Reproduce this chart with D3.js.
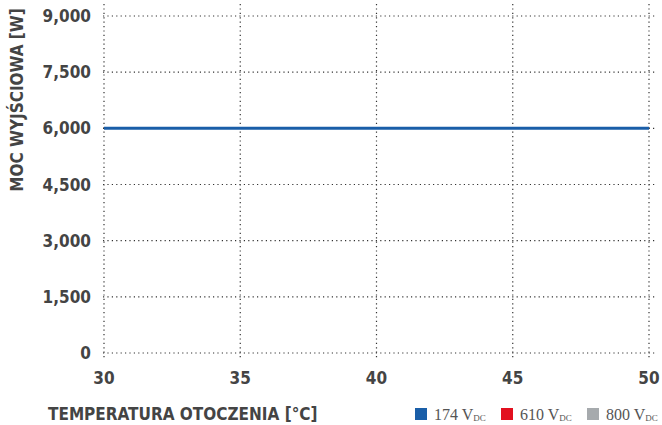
<!DOCTYPE html>
<html><head><meta charset="utf-8">
<script src="https://cdn.jsdelivr.net/npm/d3@7"></script>
<style>
body{margin:0;background:#fff;}
</style></head><body>
<svg id="c" width="662" height="425"></svg>
<script>
const temps = [30, 50];
const series174 = [6000, 6000];
const xTicks = [30, 35, 40, 45, 50];
const yTicks = [0, 1500, 3000, 4500, 6000, 7500, 9000];
const legendLabels = ["174", "610", "800"];
const legendColors = ["#1a5ea8", "#e2101f", "#a6aaad"];
const SANS = "'DejaVu Sans Condensed','DejaVu Sans',sans-serif";
const SERIF = "'Liberation Serif','DejaVu Serif',serif";

const svg = d3.select("#c");
const x = d3.scaleLinear().domain([30, 50]).range([104, 649]);
const y = d3.scaleLinear().domain([0, 9000]).range([353, 16]);
const grid = "#333";

svg.append("g").selectAll("line").data(xTicks).join("line")
  .attr("x1", d => x(d)).attr("x2", d => x(d))
  .attr("y1", 4).attr("y2", 359)
  .attr("stroke", grid).attr("stroke-width", 1.2).attr("stroke-dasharray", "1.2,3.2");
svg.append("g").selectAll("line").data(yTicks).join("line")
  .attr("x1", 103).attr("x2", 656)
  .attr("y1", d => y(d)).attr("y2", d => y(d))
  .attr("stroke", grid).attr("stroke-width", 1.2).attr("stroke-dasharray", "1.2,3.2");

svg.append("g").selectAll("text").data(yTicks).join("text")
  .attr("x", 91).attr("y", d => y(d) + 6)
  .attr("text-anchor", "end").style("font-family", SANS).style("font-size", "17px").style("font-weight", "bold")
  .attr("fill", "#444").text(d => d3.format(",")(d));
svg.append("g").selectAll("text").data(xTicks).join("text")
  .attr("x", d => x(d)).attr("y", 384)
  .attr("text-anchor", "middle").style("font-family", SANS).style("font-size", "17px").style("font-weight", "bold")
  .attr("fill", "#444").text(d => d);

const line = d3.line().x((d, i) => x(temps[i])).y(d => y(d));
svg.append("path").datum(series174).attr("d", line)
  .attr("fill", "none").attr("stroke", "#1a5ea8").attr("stroke-width", 3);

svg.append("text").attr("transform", "translate(23,100) rotate(-90)")
  .attr("text-anchor", "middle").style("font-family", SANS).style("font-size", "17px").style("font-weight", "bold")
  .attr("fill", "#444").text("MOC WYJŚCIOWA [W]");
svg.append("text").attr("x", 48).attr("y", 420)
  .style("font-family", SANS).style("font-size", "17px").style("font-weight", "bold")
  .attr("fill", "#444").text("TEMPERATURA OTOCZENIA [°C]");

const lg = svg.append("g").selectAll("g").data(legendLabels).join("g")
  .attr("transform", (d, i) => `translate(${415 + i * 86},408)`);
lg.append("rect").attr("width", 12).attr("height", 12)
  .attr("fill", (d, i) => legendColors[i]);
const t = lg.append("text").attr("x", 19).attr("y", 12)
  .style("font-family", SERIF).style("font-size", "16px").attr("fill", "#555");
t.append("tspan").text(d => d + " V");
t.append("tspan").style("font-size", "9px").attr("dy", 1).text("DC");
</script>
</body></html>
